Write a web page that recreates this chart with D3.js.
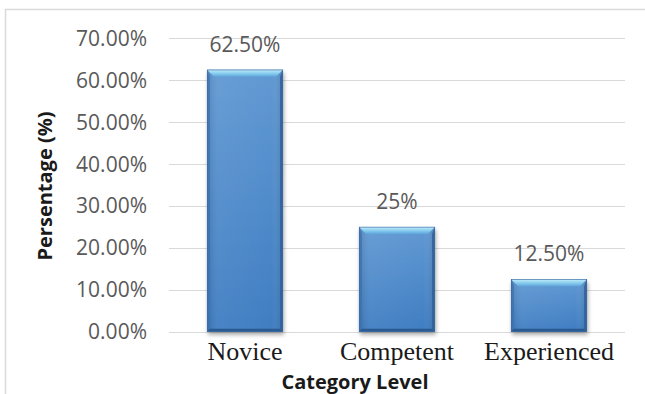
<!DOCTYPE html>
<html>
<head>
<meta charset="utf-8">
<script src="https://cdn.jsdelivr.net/npm/d3@7"></script>
<style>
  body { margin: 0; background: #fff; }
  svg { display: block; }
</style>
</head>
<body>
<div id="chart"></div>
<script>
//data
const categories = ["Novice", "Competent", "Experienced"];
const values = [0.625, 0.25, 0.125];
const valueLabels = ["62.50%", "25%", "12.50%"];
const yTicks = [0, 0.1, 0.2, 0.3, 0.4, 0.5, 0.6, 0.7];

//svg size
const width = 645;
const height = 394;
const plot = { left: 169, right: 625, top: 38.3, bottom: 331.7 };

const svg = d3
    .select("#chart")
    .append("svg")
    .attr("width", width)
    .attr("height", height);

//chart frame
svg.append("rect")
    .attr("x", 5.5)
    .attr("y", 9.5)
    .attr("width", 700)
    .attr("height", 500)
    .attr("fill", "none")
    .attr("stroke", "#dadada")
    .attr("stroke-width", 1.5);

const x = d3
    .scaleBand()
    .domain(categories)
    .range([plot.left, plot.right])
    .paddingInner(0.5)
    .paddingOuter(0.25);

const y = d3.scaleLinear().domain([0, 0.7]).range([plot.bottom, plot.top]);

//gradients
const defs = svg.append("defs");
const bodyGrad = defs.append("linearGradient")
    .attr("id", "bodyGrad").attr("x1", 0).attr("y1", 0).attr("x2", 0).attr("y2", 1);
bodyGrad.append("stop").attr("offset", "0%").attr("stop-color", "#6199d3");
bodyGrad.append("stop").attr("offset", "100%").attr("stop-color", "#3f7dc2");

const sideGrad = defs.append("linearGradient")
    .attr("id", "sideGrad").attr("x1", 0).attr("y1", 0).attr("x2", 1).attr("y2", 0);
sideGrad.append("stop").attr("offset", "0%").attr("stop-color", "#000").attr("stop-opacity", 0.12);
sideGrad.append("stop").attr("offset", "15%").attr("stop-color", "#fff").attr("stop-opacity", 0.05);
sideGrad.append("stop").attr("offset", "85%").attr("stop-color", "#fff").attr("stop-opacity", 0.0);
sideGrad.append("stop").attr("offset", "100%").attr("stop-color", "#000").attr("stop-opacity", 0.15);

const topGrad = defs.append("linearGradient")
    .attr("id", "topGrad").attr("x1", 0).attr("y1", 0).attr("x2", 0).attr("y2", 1);
topGrad.append("stop").attr("offset", "0%").attr("stop-color", "#c4ecf9");
topGrad.append("stop").attr("offset", "45%").attr("stop-color", "#8fd2f0");
topGrad.append("stop").attr("offset", "100%").attr("stop-color", "#5ea6dc");

const shadow = defs.append("filter")
    .attr("id", "shadow").attr("x", "-20%").attr("y", "-10%").attr("width", "140%").attr("height", "130%");
shadow.append("feGaussianBlur").attr("in", "SourceAlpha").attr("stdDeviation", 2);
shadow.append("feOffset").attr("dx", 1).attr("dy", 3).attr("result", "off");
shadow.append("feComponentTransfer").append("feFuncA").attr("type", "linear").attr("slope", 0.35);
const merge = shadow.append("feMerge");
merge.append("feMergeNode");
merge.append("feMergeNode").attr("in", "SourceGraphic");

//gridlines
svg.append("g")
    .selectAll("line")
    .data(yTicks)
    .join("line")
    .attr("x1", plot.left)
    .attr("x2", plot.right)
    .attr("y1", (d) => Math.round(y(d)) + 0.5)
    .attr("y2", (d) => Math.round(y(d)) + 0.5)
    .attr("stroke", "#d9d9d9")
    .attr("stroke-width", 1.2);

//y tick labels
svg.append("g")
    .selectAll("text")
    .data(yTicks)
    .join("text")
    .attr("x", 147)
    .attr("y", (d) => y(d) + 7.5)
    .attr("text-anchor", "end")
    .attr("fill", "#595959")
    .attr("font-family", "'Open Sans', sans-serif")
    .attr("font-size", 21)
    .text((d) => d3.format(".2%")(d));

//bars
const bevel = 7;
const side = 3;
const bars = svg.append("g")
    .selectAll("g.bar")
    .data(categories)
    .join("g")
    .attr("class", "bar");

bars.each(function (d, i) {
  const g = d3.select(this);
  const x0 = x(d);
  const x1 = x(d) + x.bandwidth();
  const y0 = y(values[i]);
  const yb = y(0);

  g.append("rect")
      .attr("x", x0).attr("y", y0)
      .attr("width", x1 - x0).attr("height", yb - y0)
      .attr("fill", "url(#bodyGrad)")
      .attr("filter", "url(#shadow)");
  g.append("rect")
      .attr("x", x0).attr("y", y0)
      .attr("width", x1 - x0).attr("height", yb - y0)
      .attr("fill", "url(#sideGrad)");
  //top bevel
  g.append("polygon")
      .attr("points", [[x0, y0], [x1, y0], [x1 - bevel, y0 + bevel], [x0 + bevel, y0 + bevel]].join(" "))
      .attr("fill", "url(#topGrad)");
  //left bevel
  g.append("polygon")
      .attr("points", [[x0, y0], [x0 + side, y0 + bevel], [x0 + side, yb - side], [x0, yb]].join(" "))
      .attr("fill", "#3a70ae").attr("opacity", 0.7);
  //right bevel
  g.append("polygon")
      .attr("points", [[x1, y0], [x1 - side, y0 + bevel], [x1 - side, yb - side], [x1, yb]].join(" "))
      .attr("fill", "#2e5f98").attr("opacity", 0.8);
  //bottom bevel
  g.append("polygon")
      .attr("points", [[x0, yb], [x0 + side, yb - side], [x1 - side, yb - side], [x1, yb]].join(" "))
      .attr("fill", "#2b5a90");
  g.append("rect")
      .attr("x", x0 + 0.25).attr("y", y0 + 0.25)
      .attr("width", x1 - x0 - 0.5).attr("height", yb - y0 - 0.5)
      .attr("fill", "none")
      .attr("stroke", "#3b6ca6")
      .attr("stroke-width", 0.6);
});

//value labels
svg.append("g")
    .selectAll("text")
    .data(categories)
    .join("text")
    .attr("x", (d) => x(d) + x.bandwidth() / 2)
    .attr("y", (d, i) => y(values[i]) - 18)
    .attr("text-anchor", "middle")
    .attr("fill", "#595959")
    .attr("font-family", "'Open Sans', sans-serif")
    .attr("font-size", 21)
    .text((d, i) => valueLabels[i]);

//category labels
svg.append("g")
    .selectAll("text")
    .data(categories)
    .join("text")
    .attr("x", (d) => x(d) + x.bandwidth() / 2)
    .attr("y", 360)
    .attr("text-anchor", "middle")
    .attr("fill", "#1a1a1a")
    .attr("font-family", "'Liberation Serif', 'Times New Roman', serif")
    .attr("font-size", 26)
    .text((d) => d);

//axis titles
svg.append("text")
    .attr("x", 355)
    .attr("y", 389)
    .attr("text-anchor", "middle")
    .attr("fill", "#1a1a1a")
    .attr("font-family", "'Open Sans', sans-serif")
    .attr("font-weight", "bold")
    .attr("font-size", 20)
    .text("Category Level");

svg.append("text")
    .attr("transform", `translate(52,186) rotate(-90)`)
    .attr("text-anchor", "middle")
    .attr("fill", "#1a1a1a")
    .attr("font-family", "'Open Sans', sans-serif")
    .attr("font-weight", "bold")
    .attr("font-size", 20)
    .text("Persentage (%)");
</script>
</body>
</html>
